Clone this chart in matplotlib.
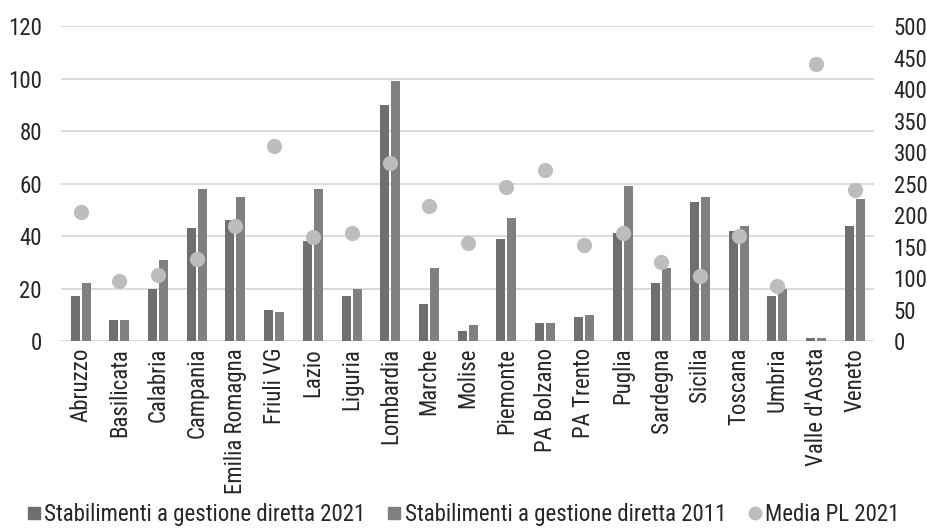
import matplotlib
matplotlib.use("Agg")
import matplotlib.pyplot as plt
from matplotlib.lines import Line2D
import numpy as np

regions = ["Abruzzo", "Basilicata", "Calabria", "Campania", "Emilia Romagna",
           "Friuli VG", "Lazio", "Liguria", "Lombardia", "Marche", "Molise",
           "Piemonte", "PA Bolzano", "PA Trento", "Puglia", "Sardegna",
           "Sicilia", "Toscana", "Umbria", "Valle d'Aosta", "Veneto"]
stab_2021 = [17, 8, 20, 43, 46, 12, 38, 17, 90, 14, 4, 39, 7, 9, 41, 22, 53, 42, 17, 1, 44]
stab_2011 = [22, 8, 31, 58, 55, 11, 58, 20, 99, 28, 6, 47, 7, 10, 59, 28, 55, 44, 20, 1, 54]
media_pl_2021 = [205, 95, 105, 130, 183, 309, 165, 171, 283, 215, 155,
                 244, 272, 153, 172, 125, 104, 166, 87, 439, 239]

plt.rcParams["font.family"] = ["Roboto Condensed", "Liberation Sans Narrow",
                               "Archivo Narrow", "Roboto", "DejaVu Sans"]
FS = 16.5
TXT = "#262626"
C21, C11, CPL = "#6f6f6f", "#808080", "#bdbdbd"

fig = plt.figure(figsize=(9.28, 5.32), dpi=100)
ax = fig.add_axes([0.066, 0.359, 0.876, 0.592])
ax2 = ax.twinx()

x = np.arange(len(regions))
w = 0.235
ax.bar(x - 0.142, stab_2021, w, color=C21, zorder=2)
ax.bar(x + 0.142, stab_2011, w, color=C11, zorder=2)
ax2.scatter(x, media_pl_2021, s=120, color=CPL, linewidths=0, zorder=3)

ax.set_xlim(-0.5, len(regions) - 0.5)
ax.set_ylim(0, 120)
ax.set_yticks(range(0, 121, 20))
ax2.set_ylim(0, 500)
ax2.set_yticks(range(0, 501, 50))
ax.grid(axis="y", color="#d9d9d9", linewidth=1.3, zorder=0)
ax.set_axisbelow(True)

ax.set_xticks(x)
ax.set_xticklabels(regions, rotation=90)
for a in (ax, ax2):
    for s in a.spines.values():
        s.set_visible(False)
    a.tick_params(length=0, labelsize=FS, colors=TXT)
ax.tick_params(axis="y", pad=14)
ax2.tick_params(axis="y", pad=14)
ax.tick_params(axis="x", pad=5)

handles = [Line2D([], [], ls="none", marker="s", markersize=8, color=C21),
           Line2D([], [], ls="none", marker="s", markersize=8, color=C11),
           Line2D([], [], ls="none", marker="o", markersize=9, color=CPL)]
labels = ["Stabilimenti a gestione diretta 2021", "Stabilimenti a gestione diretta 2011",
          "Media PL 2021"]
fig.legend(handles, labels, loc="center", bbox_to_anchor=(0.5, 0.032), ncol=3,
           frameon=False, fontsize=FS, handlelength=0.5, handletextpad=0.2,
           columnspacing=1.0, labelcolor=TXT)

fig.savefig("out.png", dpi=100)
